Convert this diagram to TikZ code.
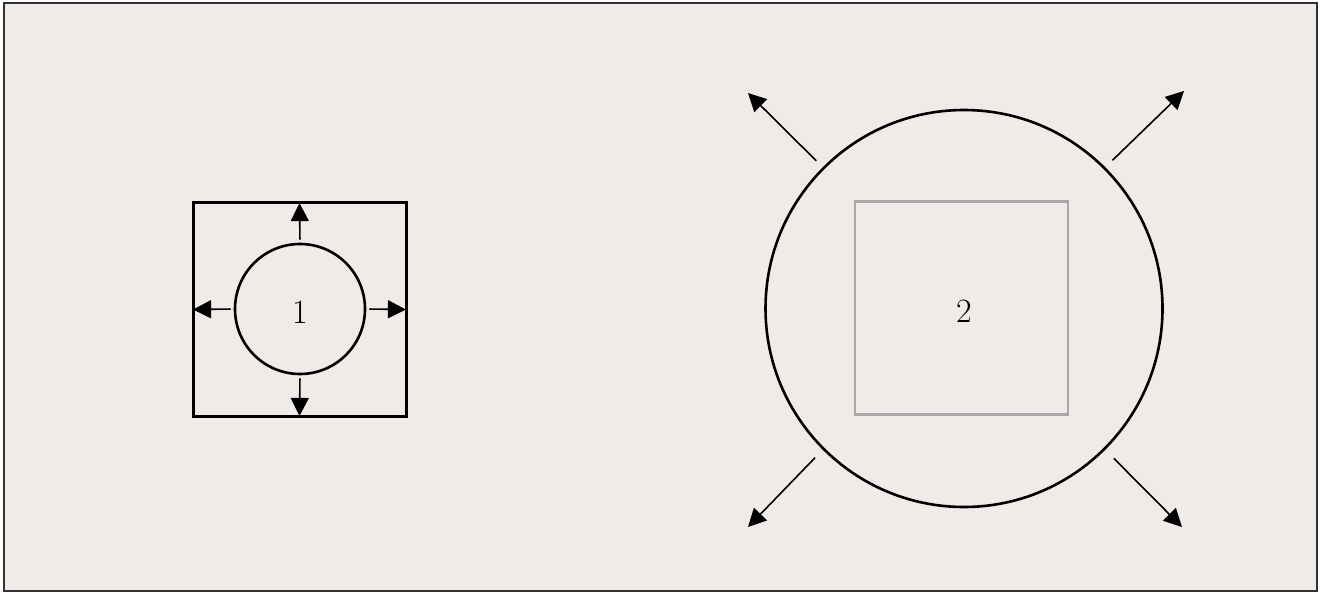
\documentclass[tikz,border=0pt]{standalone}
\usetikzlibrary{arrows.meta}
\definecolor{bgcol}{RGB}{240,234,233}
\definecolor{framecol}{RGB}{50,50,50}
\definecolor{graycol}{RGB}{168,168,168}
\begin{document}
\begin{tikzpicture}[x=0.5pt,y=-0.5pt,
  arr/.style={line width=0.8pt,-{Triangle[length=9pt,width=9pt]}},
  darkbox/.style={draw,line width=1.5pt,minimum size=106.5pt,inner sep=0pt},
  graybox/.style={draw=graycol,line width=1.2pt,minimum size=106.5pt,inner sep=0pt},
  ring/.style={draw,circle,line width=1.3pt,inner sep=0pt},
  lbl/.style={inner sep=0pt,font=\fontsize{17}{20}\selectfont}]
\useasboundingbox (0,0) rectangle (1320,593);
\fill[white] (0,0) rectangle (1320,593);
\draw[framecol,fill=bgcol,line width=1pt] (4,3) rectangle (1317,591);
% left figure
\node[darkbox] (s1) at (299.5,309.5) {};
\node[ring,minimum size=65pt] (c1) at (300,309) {};
\node[lbl] (l1) at (300,312) {1};
\draw[arr,shorten <=1.5pt,shorten >=0.8pt] (c1.north) -- (s1.north);
\draw[arr,shorten <=1.5pt,shorten >=0.8pt] (c1.south) -- (s1.south);
\draw[arr,shorten <=1.5pt,shorten >=0.8pt] (c1.west) -- (s1.west);
\draw[arr,shorten <=1.5pt,shorten >=0.8pt] (c1.east) -- (s1.east);
% right figure
\node[ring,minimum size=198.5pt] (c2) at (964,308.5) {};
\node[graybox] (s2) at (961.5,308) {};
\node[lbl] (l2) at (964,311) {2};
\coordinate (t1) at (748,93);
\coordinate (t2) at (1184,91);
\coordinate (t3) at (748,527);
\coordinate (t4) at (1182,527);
\draw[arr,shorten <=4.5pt] (c2.135) -- (t1);
\draw[arr,shorten <=5pt] (c2.45) -- (t2);
\draw[arr,shorten <=5.5pt] (c2.225) -- (t3);
\draw[arr,shorten <=6pt] (c2.315) -- (t4);
\end{tikzpicture}
\end{document}
